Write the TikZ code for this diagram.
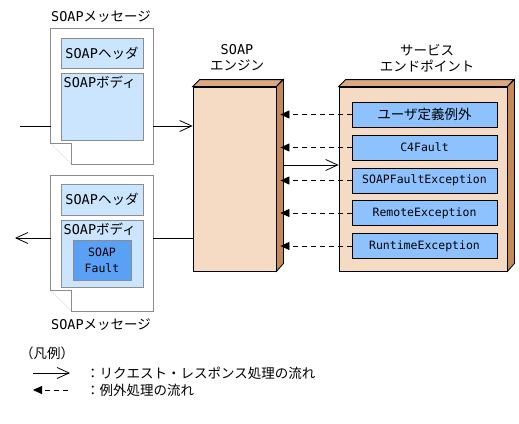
\documentclass[tikz,border=0pt]{standalone}
\usepackage{fontspec}
\setmainfont{Noto Sans CJK JP}
\newfontfamily\latmono{DejaVu Sans Mono}
\usepackage{tikz}
\usetikzlibrary{calc, arrows.meta}
\definecolor{paleblue}{HTML}{CCE5FF}
\definecolor{faultblue}{HTML}{5AA0F5}
\definecolor{excblue}{HTML}{8EC2FF}
\definecolor{peach}{HTML}{F5DBC4}
\definecolor{tantop}{HTML}{DCAA82}
\definecolor{brownside}{HTML}{C38A55}
\definecolor{docgray}{HTML}{8C8C8C}
\tikzset{
  jp/.style={font=\fontsize{13.5}{16}\selectfont},
  mono/.style={font=\fontsize{11.5}{16}\selectfont\latmono},
  docbox/.style={draw=docgray,fill=paleblue,line width=1pt,inner sep=0pt},
  excbox/.style={draw=black,fill=excblue,line width=0.8pt,minimum width=145pt,minimum height=25pt,inner sep=0pt,mono},
  flow/.style={line width=0.8pt,-{Straight Barb[length=12pt,width=11pt]}},
  fault/.style={line width=0.8pt,dash pattern=on 5pt off 4pt,-{Triangle[length=9pt,width=8pt]}},
}
\begin{document}
\begin{tikzpicture}[x=1pt,y=-1pt]
		\useasboundingbox[fill=white] (0,0) rectangle (519,423);
		%リクエスト側のメッセージ
		\node[minimum width=102pt,minimum height=135pt,inner sep=0pt] (msgA) at (102,96.5) {};
		\fill[white] (msgA.north west) rectangle (msgA.south east);
		\draw[docgray,line width=1pt] (msgA.north west)--(msgA.north east)--(msgA.south east)--([xshift=21pt]msgA.south west)--([xshift=21pt,yshift=21pt]msgA.south west)--([yshift=21pt]msgA.south west)--cycle;
		\draw[docgray,densely dotted] ([yshift=21pt]msgA.south west)--([xshift=21pt]msgA.south west);
		\node[docbox,minimum width=82pt,minimum height=30pt] (hdrA) at (102,53) {};
		\node[jp,anchor=center] at (hdrA) {{\latmono SOAP}ヘッダ};
		\node[docbox,minimum width=82pt,minimum height=67pt] (bodyA) at (102,106.5) {};
		\node[jp,anchor=north west,inner sep=3pt] at (bodyA.north west) {{\latmono SOAP}ボディ};
		\node[jp] at (101,17) {{\latmono SOAP}メッセージ};
		%レスポンス側のメッセージ
		\node[minimum width=102pt,minimum height=135pt,inner sep=0pt] (msgB) at (102,243.5) {};
		\fill[white] (msgB.north west) rectangle (msgB.south east);
		\draw[docgray,line width=1pt] (msgB.north west)--(msgB.north east)--(msgB.south east)--([xshift=21pt]msgB.south west)--([xshift=21pt,yshift=21pt]msgB.south west)--([yshift=21pt]msgB.south west)--cycle;
		\draw[docgray,densely dotted] ([yshift=21pt]msgB.south west)--([xshift=21pt]msgB.south west);
		\node[docbox,minimum width=82pt,minimum height=31pt] (hdrB) at (102,199.5) {};
		\node[jp] at (hdrB) {{\latmono SOAP}ヘッダ};
		\node[docbox,minimum width=82pt,minimum height=67pt] (bodyB) at (102,253.5) {};
		\node[jp,anchor=north west,inner sep=3pt] at (bodyB.north west) {{\latmono SOAP}ボディ};
		\node[draw=docgray,fill=faultblue,line width=1pt,minimum width=58pt,minimum height=40pt,inner sep=0pt,mono,align=center] (fault) at (102,260) {SOAP\\Fault};
		\node[jp] at (101,325) {{\latmono SOAP}メッセージ};
		%SOAPエンジン
		\node[draw,fill=peach,line width=0.8pt,minimum width=83pt,minimum height=184pt,inner sep=0pt] (engine) at (234.5,179) {};
		\draw[fill=tantop,line width=0.8pt] (engine.north west)--++(7,-7)--++(83,0)--(engine.north east)--cycle;
		\draw[fill=brownside,line width=0.8pt] (engine.north east)--++(7,-7)--++(0,184)--(engine.south east)--cycle;
		\node[jp,align=center] at (237,58) {{\latmono SOAP}\\エンジン};
		%サービスエンドポイント
		\node[draw,fill=peach,line width=0.8pt,minimum width=168pt,minimum height=184pt,inner sep=0pt] (endpt) at (423,179) {};
		\draw[fill=tantop,line width=0.8pt] (endpt.north west)--++(7,-7)--++(168,0)--(endpt.north east)--cycle;
		\draw[fill=brownside,line width=0.8pt] (endpt.north east)--++(7,-7)--++(0,184)--(endpt.south east)--cycle;
		\node[jp,align=center] at (427,58) {サービス\\エンドポイント};
		\node[excbox,jp] (exc1) at (424.5,114.5) {ユーザ定義例外};
		\node[excbox] (exc2) at (424.5,147.5) {C4Fault};
		\node[excbox] (exc3) at (424.5,180.5) {SOAPFaultException};
		\node[excbox] (exc4) at (424.5,213) {RemoteException};
		\node[excbox] (exc5) at (424.5,246) {RuntimeException};
		\foreach \i in {1,...,5}
			\draw[fault] (exc\i.west)--([xshift=4pt]engine.east |- exc\i.west);
		%処理の流れ
		\coordinate (in) at (20,126);
		\coordinate (out) at (15,238);
		\draw[line width=0.8pt] (in)--(msgA.west |- in);
		\draw[flow] (msgA.east |- in)--(engine.west |- in);
		\draw[flow] ([xshift=7pt]engine.east |- 0,165)--(endpt.west |- 0,165);
		\draw[line width=0.8pt] (engine.west |- out)--(msgB.east |- out);
		\draw[flow] (msgB.west |- out)--(out);
		%凡例
		\node[jp,anchor=west,inner sep=0pt] (legend) at (20,353) {（凡例）};
		\coordinate (flowA) at (33,373);
		\coordinate (flowB) at (70,373);
		\draw[flow] (flowA)--(flowB);
		\node[jp,anchor=west,inner sep=0pt] (reqtxt) at (86,373) {：リクエスト・レスポンス処理の流れ};
		\coordinate (excA) at (33,390);
		\coordinate (excB) at (68,390);
		\draw[fault] (excB)--(excA);
		\node[jp,anchor=west,inner sep=0pt] (exctxt) at (86,390) {：例外処理の流れ};
	\end{tikzpicture}
\end{document}
